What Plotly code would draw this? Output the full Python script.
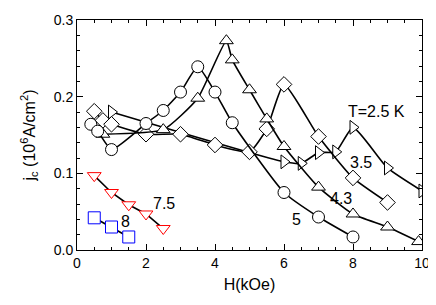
import plotly.graph_objects as go

# T = 5 K (circles)
h5 = [0.4, 0.6, 1.0, 2.0, 2.5, 3.0, 3.5, 4.0, 4.5, 6.0, 7.0, 8.0]
j5 = [0.164, 0.155, 0.131, 0.165, 0.182, 0.206, 0.239, 0.206, 0.166, 0.075, 0.043, 0.017]
# T = 4.3 K (up triangles)
h43 = [0.75, 2.5, 3.5, 4.33, 4.5, 5.0, 5.5, 6.0, 7.0, 8.0, 9.0, 9.9]
j43 = [0.151, 0.157, 0.198, 0.273, 0.248, 0.209, 0.171, 0.135, 0.082, 0.047, 0.030, 0.011]
# T = 3.5 K (diamonds)
h35 = [0.5, 0.75, 1.0, 2.0, 3.0, 4.0, 5.0, 5.5, 6.0, 7.0, 8.0, 9.0]
j35 = [0.181, 0.169, 0.164, 0.151, 0.151, 0.137, 0.128, 0.158, 0.216, 0.148, 0.094, 0.062]
# T = 2.5 K (right triangles)
h25 = [1.0, 6.0, 6.5, 7.0, 7.5, 8.0, 9.0, 10.0]
j25 = [0.180, 0.115, 0.113, 0.127, 0.128, 0.160, 0.107, 0.077]
# T = 7.5 K (down triangles, red)
h75 = [0.5, 1.0, 1.5, 2.0, 2.5]
j75 = [0.097, 0.075, 0.059, 0.047, 0.028]
# T = 8 K (squares, blue)
h8 = [0.5, 1.0, 1.5]
j8 = [0.042, 0.030, 0.017]

labels = ["T=2.5 K", "3.5", "4.3", "5", "7.5", "8"]
label_x = [8.68, 8.24, 7.66, 6.36, 2.53, 1.40]
label_y = [0.181, 0.114, 0.067, 0.040, 0.061, 0.037]

FONT = "Liberation Sans, Arial, Helvetica, sans-serif"

fig = go.Figure()

def add(h, j, symbol, mcolor, spline=True):
    fig.add_trace(go.Scatter(
        x=h, y=j, mode="lines+markers",
        line=dict(color="black", width=1.6, shape="spline" if spline else "linear", smoothing=0.5),
        marker=dict(symbol=symbol, size=12, color="white",
                    line=dict(color=mcolor, width=1)),
        showlegend=False, cliponaxis=True))

add(h25, j25, "triangle-right", "black")
add(h35, j35, "diamond", "black")
add(h43, j43, "triangle-up", "black")
add(h5, j5, "circle", "black")
add(h75, j75, "triangle-down", "red", spline=False)
add(h8, j8, "square", "blue", spline=False)

for t, x, y in zip(labels, label_x, label_y):
    fig.add_annotation(x=x, y=y, text=t, showarrow=False,
                       font=dict(family=FONT, size=16, color="black"),
                       xanchor="center", yanchor="middle")

axis_common = dict(showline=True, linecolor="black", linewidth=1, mirror="ticks",
                   ticks="inside", tickcolor="black", ticklen=6, tickwidth=1,
                   showgrid=False, zeroline=False, automargin=False,
                   tickfont=dict(family=FONT, size=14, color="black"))

fig.update_xaxes(range=[0, 10], dtick=2, tick0=0,
                 minor=dict(dtick=0.5, ticks="inside", ticklen=3, tickcolor="black", showgrid=False),
                 title=dict(text="H(kOe)", font=dict(family=FONT, size=16, color="black"), standoff=9),
                 **axis_common)
fig.update_yaxes(range=[0, 0.3], dtick=0.1, tick0=0, tickformat=".1f",
                 minor=dict(dtick=0.02, ticks="inside", ticklen=3, tickcolor="black", showgrid=False),
                 title=dict(text="j<sub>c</sub> (10<sup>6</sup>A/cm<sup>2</sup>)",
                            font=dict(family=FONT, size=16, color="black"), standoff=14),
                 **axis_common)

# page body has an 8px margin, so the figure is sized to fit the 436x305 window
fig.update_layout(width=428, height=297, margin=dict(l=69, r=14, t=12, b=55),
                  paper_bgcolor="white", plot_bgcolor="white",
                  font=dict(family=FONT))

fig.write_html("out.html")
